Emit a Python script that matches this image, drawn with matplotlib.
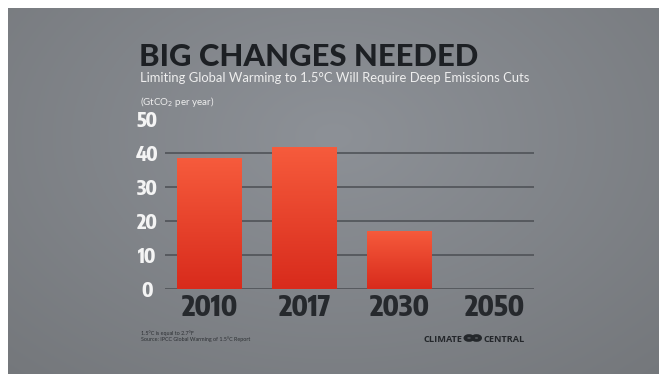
import numpy as np
import matplotlib
matplotlib.use("Agg")
import matplotlib.pyplot as plt
from matplotlib.patches import Circle
from matplotlib import font_manager
from matplotlib.font_manager import FontProperties

# ---- data ----
years = ["2010", "2017", "2030", "2050"]
emissions = [38.5, 41.7, 17.1, 0.0]
yticks = [0, 10, 20, 30, 40, 50]
grid_levels = [0, 10, 20, 30, 40]

title = "BIG CHANGES NEEDED"
subtitle = "Limiting Global Warming to 1.5°C Will Require Deep Emissions Cuts"
unit = "(GtCO$_2$ per year)"
note1 = "1.5°C is equal to 2.7°F"
note2 = "Source: IPCC Global Warming of 1.5°C Report"


def pick_condensed():
    best = None
    best_score = -1
    for f in font_manager.fontManager.ttflist:
        st = str(f.stretch).lower()
        nm = f.name.lower()
        fn = f.fname.lower()
        if "serif" in nm and "sans" not in nm:
            continue
        if "mono" in nm or "mono" in fn:
            continue
        is_cond = ("condensed" in st) or ("narrow" in nm) or ("condensed" in nm) \
            or ("condensed" in fn) or ("narrow" in fn)
        if not is_cond:
            continue
        w = f.weight if isinstance(f.weight, int) else {"bold": 700, "normal": 400}.get(str(f.weight), 400)
        score = 0
        if 600 <= w <= 800:
            score += 10
        if "extra" in st or "extra" in fn:
            score += 2
        if "italic" in fn or "oblique" in fn or f.style != "normal":
            score -= 20
        if "sans" in nm:
            score += 3
        if score > best_score:
            best_score = score
            best = f
    if best is None:
        return FontProperties(family="DejaVu Sans", weight="bold"), False
    return FontProperties(fname=best.fname), True


cond_fp, found = pick_condensed()

W, H = 659, 374
fig = plt.figure(figsize=(W / 100, H / 100), dpi=100)
fig.patch.set_facecolor("white")

# background gradient panel (white margin on top and left)
bg = fig.add_axes([8 / W, 0, (W - 8) / W, (H - 8) / H])
bg.set_axis_off()
yy, xx = np.mgrid[0:1:200j, 0:1:300j]
r = np.sqrt(((xx - 0.5) / 0.75) ** 2 + ((yy - 0.35) / 0.9) ** 2)
r = np.clip(r, 0, 1)
c_in = np.array([0x8d, 0x91, 0x97]) / 255
c_out = np.array([0x74, 0x77, 0x7b]) / 255
img = c_in[None, None, :] * (1 - r[..., None]) + c_out[None, None, :] * r[..., None]
bg.imshow(img, aspect="auto", extent=[0, 1, 0, 1], origin="upper")
bg.set_xlim(0, 1)
bg.set_ylim(0, 1)

# main axes
left_px, right_px, top_px, bot_px = 165, 534, 119, 289
ax = fig.add_axes([left_px / W, (H - bot_px) / H, (right_px - left_px) / W, (bot_px - top_px) / H])
ax.patch.set_alpha(0)
for s in ax.spines.values():
    s.set_visible(False)

x = np.arange(len(years))

for g in grid_levels:
    ax.axhline(g, color="#4b4e53", lw=1.1, zorder=1)

bars = ax.bar(x, emissions, width=0.684, color="#e8402a", zorder=2)
grad = np.linspace(0, 1, 100)[:, None]
top_c = np.array([0xf6, 0x5b, 0x3c]) / 255
bot_c = np.array([0xd8, 0x2b, 0x1c]) / 255
gimg = top_c[None, None, :] * (1 - grad[..., None]) + bot_c[None, None, :] * grad[..., None]
for b in bars:
    if b.get_height() <= 0:
        continue
    bx, by, bw, bh = b.get_x(), b.get_y(), b.get_width(), b.get_height()
    im = ax.imshow(gimg, aspect="auto", extent=[bx, bx + bw, by, by + bh],
                   origin="upper", zorder=3)
    im.set_clip_path(b)
ax.set_xlim(-0.468, 3.416)
ax.set_ylim(0, 50)

ysz = 14 if found else 13
xsz = 20 if found else 17
yfp = cond_fp.copy()
yfp.set_size(ysz)
xfp = cond_fp.copy()
xfp.set_size(xsz)
if not found:
    yfp.set_weight("bold")
    xfp.set_weight("bold")

ax.set_yticks(yticks)
ax.set_yticklabels([str(t) for t in yticks], fontproperties=yfp, color="#f4f4f4", ha="center")
ax.tick_params(axis="y", length=0, pad=13)
ax.set_xticks(x)
ax.set_xticklabels(years, fontproperties=xfp, color="#26292d")
ax.tick_params(axis="x", length=0, pad=3)

# texts
def fx(px):
    return px / W

def fy(py):
    return 1 - py / H

fig.text(fx(139), fy(65.7), title, fontfamily="Lato", fontweight="black",
         fontsize=22.3, color="#1d2024", va="baseline", ha="left")
fig.text(fx(140), fy(81.7), subtitle, fontfamily="Lato", fontsize=9.4,
         color="#eeeeee", va="baseline", ha="left")
fig.text(fx(140), fy(105), unit, fontfamily="Lato", fontsize=7,
         color="#eeeeee", va="baseline", ha="left")
fig.text(fx(141), fy(335), note1, fontfamily="Lato", fontsize=3.9,
         color="#2e3135", va="baseline", ha="left")
fig.text(fx(141), fy(341), note2, fontfamily="Lato", fontsize=3.9,
         color="#2e3135", va="baseline", ha="left")

# logo
fig.text(fx(462), fy(341.5), "CLIMATE", fontfamily="Open Sans", fontweight="bold",
         fontsize=6.6, color="#24272b", va="baseline", ha="right")
fig.text(fx(483), fy(341.5), "CENTRAL", fontfamily="Open Sans", fontweight="bold",
         fontsize=6.6, color="#24272b", va="baseline", ha="left")
for cxp in (469, 476.5):
    fig.add_artist(Circle((fx(cxp), fy(338)), radius=3.8 / W, transform=fig.transFigure,
                          fill=False, ec="#24272b", lw=2.4))

fig.savefig("out.png", dpi=100, facecolor=fig.get_facecolor())
